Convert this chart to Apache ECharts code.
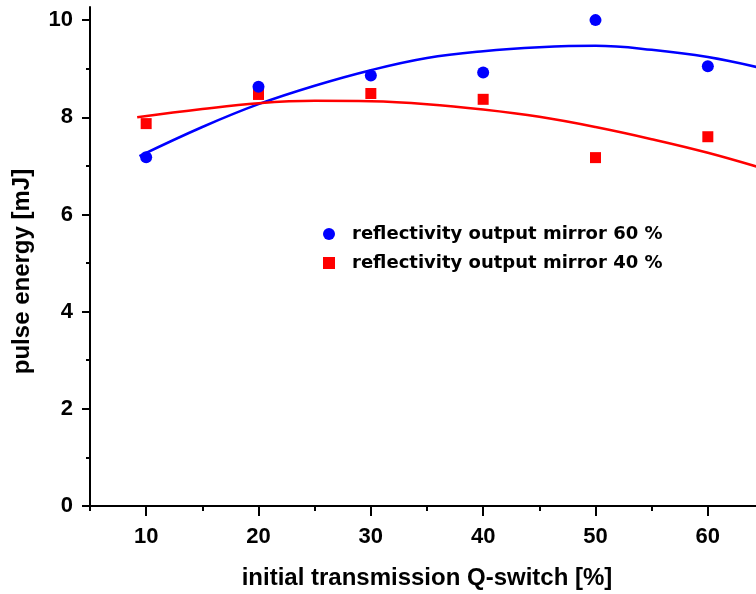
<!DOCTYPE html>
<html>
<head>
<meta charset="utf-8">
<script src="https://cdn.jsdelivr.net/npm/echarts@6/dist/echarts.min.js"></script>
<style>
  html, body { margin: 0; padding: 0; background: #fff; }
  #chart { width: 756px; height: 594px; }
</style>
</head>
<body>
<div id="chart"></div>
<script>
// measured points
const transmission = [10, 20, 30, 40, 50, 60];
const energy60 = [7.18, 8.63, 8.86, 8.92, 10.0, 9.05];
const energy40 = [7.87, 8.47, 8.49, 8.37, 7.17, 7.60];

// fit curves
const fit60X = [9.4, 15, 20, 25, 30, 35, 40, 45, 50, 55, 60, 65];
const fit60Y = [7.20, 7.80, 8.27, 8.65, 8.97, 9.22, 9.36, 9.44, 9.47, 9.39, 9.24, 9.00];
const fit40X = [9.2, 15, 20, 25, 30, 35, 40, 45, 50, 55, 60, 65];
const fit40Y = [8.00, 8.17, 8.29, 8.34, 8.33, 8.27, 8.16, 8.01, 7.80, 7.55, 7.27, 6.94];

// tick labels
const xTicks = [10, 20, 30, 40, 50, 60];
const xMinorTicks = [5, 15, 25, 35, 45, 55, 65];
const yTicks = [0, 2, 4, 6, 8, 10];
const yMinorTicks = [1, 3, 5, 7, 9];

const zip = (a, b) => a.map((v, i) => [v, b[i]]);
const font = 'Liberation Sans, Arial, sans-serif';

let myChart = echarts.init(document.getElementById('chart'));

const axisLine = { show: true, lineStyle: { color: '#000', width: 2 } };

let options = {
  animation: false,
  backgroundColor: '#fff',
  grid: { left: 90, top: 7, width: 674, height: 499, outerBoundsMode: 'none', containLabel: false },
  legend: {
    orient: 'vertical',
    left: 318,
    top: 220,
    itemWidth: 36,
    itemHeight: 12,
    itemGap: 11,
    data: [
      { name: 'reflectivity output mirror 60 %', icon: 'circle' },
      { name: 'reflectivity output mirror 40 %', icon: 'path://M0,0H1V1H0Z' }
    ],
    symbolKeepAspect: true,
    textStyle: { fontFamily: 'DejaVu Sans', fontWeight: 'bold', fontSize: 18, lineHeight: 18, color: '#000' }
  },
  xAxis: [
    {
      type: 'value', min: 5, max: 65,
      name: 'initial transmission Q-switch [%]',
      nameLocation: 'middle', nameGap: 60,
      nameTextStyle: { fontFamily: font, fontWeight: 'bold', fontSize: 24, color: '#000' },
      axisLine: axisLine,
      axisTick: { show: true, customValues: xTicks, length: 10, lineStyle: { color: '#000', width: 2 } },
      axisLabel: { customValues: xTicks, margin: 20, fontFamily: font, fontWeight: 'bold', fontSize: 22, color: '#000' },
      splitLine: { show: false }
    },
    {
      type: 'value', min: 5, max: 65, position: 'bottom',
      axisLine: { show: false },
      axisTick: { show: true, customValues: xMinorTicks, length: 5, lineStyle: { color: '#000', width: 2 } },
      axisLabel: { show: false },
      splitLine: { show: false }
    }
  ],
  yAxis: [
    {
      type: 'value', min: 0, max: 10.27,
      name: 'pulse energy [mJ]',
      nameLocation: 'middle', nameGap: 56,
      nameTextStyle: { fontFamily: font, fontWeight: 'bold', fontSize: 24, color: '#000', padding: [0, 30, 0, 0] },
      axisLine: axisLine,
      axisTick: { show: true, customValues: yTicks, length: 8, lineStyle: { color: '#000', width: 2 } },
      axisLabel: { customValues: yTicks, margin: 17, fontFamily: font, fontWeight: 'bold', fontSize: 22, color: '#000' },
      splitLine: { show: false }
    },
    {
      type: 'value', min: 0, max: 10.27, position: 'left',
      axisLine: { show: false },
      axisTick: { show: true, customValues: yMinorTicks, length: 4, lineStyle: { color: '#000', width: 2 } },
      axisLabel: { show: false },
      splitLine: { show: false }
    }
  ],
  series: [
    {
      name: 'fit 60', type: 'line', smooth: 0.4, showSymbol: false, symbol: 'none',
      data: zip(fit60X, fit60Y),
      lineStyle: { color: '#0000ff', width: 2.5 }, z: 2
    },
    {
      name: 'fit 40', type: 'line', smooth: 0.4, showSymbol: false, symbol: 'none',
      data: zip(fit40X, fit40Y),
      lineStyle: { color: '#ff0000', width: 2.5 }, z: 2
    },
    {
      name: 'reflectivity output mirror 40 %', type: 'scatter', symbol: 'rect', symbolSize: 11,
      data: zip(transmission, energy40),
      itemStyle: { color: '#ff0000', opacity: 1 }, z: 3
    },
    {
      name: 'reflectivity output mirror 60 %', type: 'scatter', symbol: 'circle', symbolSize: 12,
      data: zip(transmission, energy60),
      itemStyle: { color: '#0000ff', opacity: 1 }, z: 4
    }
  ]
};

myChart.setOption(options);
</script>
</body>
</html>
